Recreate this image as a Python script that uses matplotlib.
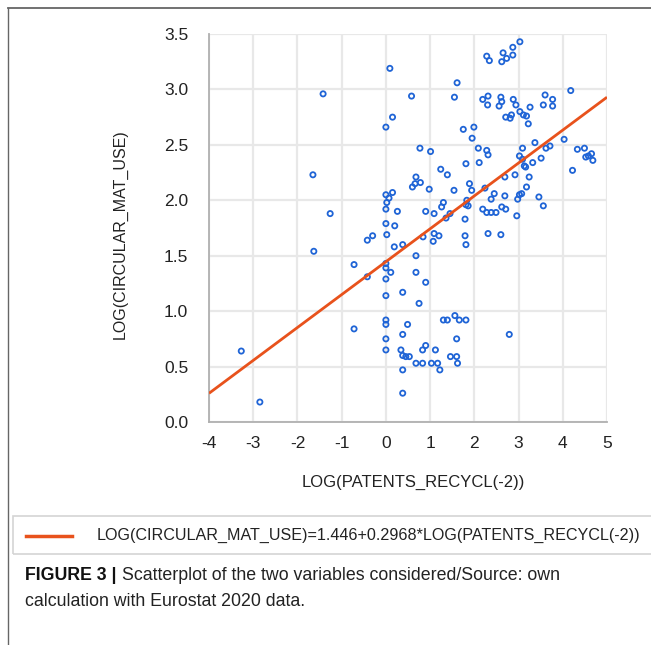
import matplotlib
matplotlib.use("Agg")
from matplotlib import pyplot as plt
from matplotlib.lines import Line2D
from matplotlib.patches import Rectangle

# scatter points (log patents, log circular material use)
pts = [
    (-3.27, 0.64), (-2.85, 0.18), (-1.65, 2.23), (-1.42, 2.96), (-1.63, 1.54),
    (-1.26, 1.88), (-0.72, 1.42), (-0.72, 0.84), (-0.42, 1.64), (-0.30, 1.68),
    (-0.42, 1.31),
    (0.00, 2.66), (0.09, 3.19), (0.15, 2.75), (0.58, 2.94),
    (0.00, 2.05), (0.07, 2.02), (0.02, 1.98), (0.00, 1.92), (0.15, 2.07),
    (0.26, 1.90), (0.00, 1.79), (0.20, 1.77), (0.02, 1.69), (0.19, 1.58),
    (0.38, 1.60), (0.68, 1.50), (0.00, 1.43), (0.00, 1.39), (0.11, 1.35),
    (0.00, 1.29), (0.68, 1.35), (0.90, 1.26), (0.00, 1.14), (0.38, 1.17),
    (0.75, 1.07), (0.00, 0.92), (0.00, 0.88), (0.49, 0.88), (0.00, 0.75),
    (0.38, 0.79), (0.00, 0.65), (0.34, 0.65), (0.38, 0.60), (0.53, 0.59),
    (0.45, 0.59), (0.38, 0.47), (0.38, 0.26), (0.68, 0.53), (0.83, 0.53),
    (0.83, 0.65), (0.90, 0.69), (1.03, 0.53), (1.17, 0.53), (1.22, 0.47),
    (1.12, 0.65), (1.30, 0.92), (1.39, 0.92), (1.56, 0.96), (1.66, 0.92),
    (1.81, 0.92), (1.60, 0.75), (1.46, 0.59), (1.60, 0.59), (1.62, 0.53),
    (2.79, 0.79),
    (0.77, 2.47), (1.01, 2.44), (1.24, 2.28), (1.39, 2.23), (0.68, 2.21),
    (0.78, 2.16), (0.60, 2.12), (0.66, 2.15), (0.98, 2.10), (1.54, 2.09),
    (0.90, 1.90), (1.09, 1.88), (1.30, 1.98), (1.26, 1.94), (1.36, 1.84),
    (1.45, 1.88), (0.84, 1.67), (1.09, 1.70), (1.20, 1.68), (1.07, 1.63),
    (1.79, 1.68), (1.81, 1.60), (1.86, 1.95), (1.81, 2.33), (1.75, 2.64),
    (1.99, 2.66), (1.95, 2.56), (2.09, 2.47), (2.28, 2.45), (2.31, 2.41),
    (2.11, 2.34), (2.81, 2.74), (3.22, 2.69), (3.09, 2.47), (3.37, 2.52),
    (3.62, 2.47), (3.71, 2.49), (4.03, 2.55), (3.02, 2.40), (3.09, 2.37),
    (3.32, 2.34), (3.51, 2.38), (3.13, 2.31), (3.16, 2.30), (4.33, 2.46),
    (4.49, 2.47), (4.65, 2.42), (4.52, 2.39), (4.68, 2.36), (4.58, 2.40),
    (4.22, 2.27), (2.69, 2.21), (2.92, 2.23), (3.24, 2.21), (3.18, 2.12),
    (2.24, 2.11), (1.89, 2.15), (1.94, 2.09), (2.45, 2.06), (2.38, 2.01),
    (2.69, 2.04), (3.02, 2.05), (3.07, 2.06), (2.98, 2.01), (3.46, 2.03),
    (3.56, 1.95), (1.83, 2.00), (1.81, 1.96), (2.19, 1.92), (2.28, 1.89),
    (2.38, 1.89), (2.49, 1.89), (2.62, 1.94), (2.71, 1.92), (2.96, 1.86),
    (1.79, 1.83), (2.31, 1.70), (2.60, 1.69),
    (1.61, 3.06), (1.55, 2.93), (2.28, 3.30), (2.34, 3.26), (2.62, 3.25),
    (2.65, 3.33), (2.73, 3.28), (2.87, 3.38), (2.87, 3.31), (3.03, 3.43),
    (2.19, 2.91), (2.31, 2.94), (2.30, 2.86), (2.56, 2.85), (2.60, 2.93),
    (2.62, 2.89), (2.88, 2.91), (2.94, 2.86), (2.71, 2.75), (2.84, 2.77),
    (3.03, 2.80), (3.11, 2.77), (3.18, 2.76), (3.26, 2.84), (3.60, 2.95),
    (3.56, 2.86), (3.77, 2.91), (3.77, 2.85), (4.18, 2.99),
]
x_vals = [p[0] for p in pts]
y_vals = [p[1] for p in pts]

# fitted line
intercept = 1.446
slope = 0.2968
line_x = [-4, 5]
line_y = [intercept + slope * v for v in line_x]

x_ticks = [-4, -3, -2, -1, 0, 1, 2, 3, 4, 5]
y_ticks = [0.0, 0.5, 1.0, 1.5, 2.0, 2.5, 3.0, 3.5]

plt.rcParams["font.family"] = ["Liberation Sans", "DejaVu Sans"]

W, H = 651, 645
fig = plt.figure(figsize=(W / 100, H / 100), dpi=100)
ax = fig.add_axes([209 / W, 1 - 422 / H, (607 - 209) / W, (422 - 34) / H])

blue = "#1f64d6"
orange = "#e8521c"

ax.scatter(x_vals, y_vals, s=14, facecolors="none", edgecolors=blue,
           linewidths=1.3, zorder=3)
ax.plot(line_x, line_y, color=orange, lw=2, zorder=4, solid_capstyle="butt")

ax.set_xlim(-4, 5)
ax.set_ylim(0, 3.5)
ax.set_xticks(x_ticks)
ax.set_yticks(y_ticks)
ax.set_xticklabels([str(v) for v in x_ticks])
ax.set_yticklabels([f"{v:.1f}" for v in y_ticks])
ax.tick_params(length=0, labelsize=12.5, colors="#222222")
ax.tick_params(axis="y", pad=15)
ax.tick_params(axis="x", pad=10)
ax.grid(True, color="#e8e8e8", lw=1.6)
ax.set_axisbelow(True)
for s in ["top", "right"]:
    ax.spines[s].set_visible(False)
for s in ["left", "bottom"]:
    ax.spines[s].set_color("#b0b0b0")
    ax.spines[s].set_linewidth(1.3)

fig.text(120 / W, 1 - 234 / H, "LOG(CIRCULAR_MAT_USE)", rotation=90,
         ha="center", va="center", fontsize=11.5, color="#222222")
fig.text(413 / W, 1 - 482 / H, "LOG(PATENTS_RECYCL(-2))",
         ha="center", va="center", fontsize=12, color="#222222")

# legend box
fig.patches.append(Rectangle((13 / W, 1 - 554 / H), 700 / W, 38 / H,
                             transform=fig.transFigure, fill=False,
                             edgecolor="#d4d4d4", lw=1.2))
fig.lines.append(Line2D([26 / W, 72 / W], [1 - 536 / H, 1 - 536 / H],
                        transform=fig.transFigure, color=orange, lw=2.5))
fig.text(97 / W, 1 - 535 / H,
         "LOG(CIRCULAR_MAT_USE)=1.446+0.2968*LOG(PATENTS_RECYCL(-2))",
         ha="left", va="center", fontsize=11.6, color="#222222")

# caption
t1 = fig.text(25 / W, 1 - 576 / H, "FIGURE 3 |", ha="left", va="center",
              fontsize=12.8, fontweight="bold", color="#111111")
fig.canvas.draw()
bb = t1.get_window_extent()
fig.text(bb.x1 / W + 5 / W, 1 - 576 / H,
         "Scatterplot of the two variables considered/Source: own",
         ha="left", va="center", fontsize=12.8, color="#222222")
fig.text(25 / W, 1 - 602 / H, "calculation with Eurostat 2020 data.",
         ha="left", va="center", fontsize=12.8, color="#222222")

# page frame lines
fig.lines.append(Line2D([8 / W, 1], [1 - 8 / H, 1 - 8 / H],
                        transform=fig.transFigure, color="#666666", lw=1.3))
fig.lines.append(Line2D([8 / W, 8 / W], [0, 1 - 8 / H],
                        transform=fig.transFigure, color="#666666", lw=1.0))

fig.savefig("out.png", dpi=100)
